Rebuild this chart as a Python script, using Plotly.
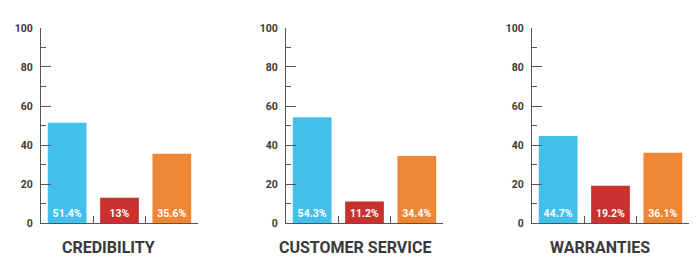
import plotly.graph_objects as go

panel_titles = ["CREDIBILITY", "CUSTOMER SERVICE", "WARRANTIES"]
groups = ["A", "B", "C"]
values = [
    [51.4, 13, 35.6],
    [54.3, 11.2, 34.4],
    [44.7, 19.2, 36.1],
]
labels = [
    ["51.4%", "13%", "35.6%"],
    ["54.3%", "11.2%", "34.4%"],
    ["44.7%", "19.2%", "36.1%"],
]
bar_colors = ["#42BFEB", "#C9302E", "#EF8633"]
y_ticks = [0, 20, 40, 60, 80, 100]

W, H = 700, 276
x_px = [(41, 198), (286, 443), (532, 689)]
title_cx = [108, 355, 600]
y_top, y_bot = 23, 228

fig = go.Figure()
axis_color = "#555555"
text_color = "#3a3a3a"
font_fam = "Roboto, Arial, sans-serif"

for i in range(3):
    xa = "x" if i == 0 else f"x{i+1}"
    ya = "y" if i == 0 else f"y{i+1}"
    fig.add_trace(go.Bar(
        x=groups, y=values[i], xaxis=xa, yaxis=ya,
        marker=dict(color=bar_colors, line=dict(width=0)),
        text=labels[i], textposition="inside", insidetextanchor="start",
        textangle=0,
        textfont=dict(color="white", size=10.5, family=font_fam, weight="bold"),
        width=0.74, showlegend=False, hoverinfo="skip",
        cliponaxis=False,
    ))
    key = "" if i == 0 else str(i + 1)
    d0, d1 = x_px[i][0] / W, x_px[i][1] / W
    fig.layout["xaxis" + key] = dict(
        domain=[d0, d1], range=[-0.5, 2.5], showticklabels=False,
        showline=True, linecolor=axis_color, linewidth=1,
        ticks="inside", tickson="boundaries", ticklen=7, tickcolor=axis_color,
        tickwidth=1, showgrid=False, zeroline=False,
        anchor=ya, fixedrange=True,
    )
    fig.layout["yaxis" + key] = dict(
        domain=[1 - y_bot / H, 1 - y_top / H], range=[0, 100],
        tickvals=y_ticks, ticks="inside", ticklen=10, tickcolor=axis_color,
        tickwidth=1, showline=True, linecolor=axis_color, linewidth=1,
        showgrid=False, zeroline=False, anchor=xa,
        ticklabelstandoff=5,
        tickfont=dict(color=text_color, size=10.5, family=font_fam, weight="bold"),
        minor=dict(ticks="inside", ticklen=5, dtick=10, tickcolor=axis_color,
                   tickwidth=1, showgrid=False),
        fixedrange=True,
    )
    fig.add_annotation(
        x=title_cx[i] / W, y=1 - 253 / H, xref="paper", yref="paper",
        text=panel_titles[i], showarrow=False, xanchor="center", yanchor="middle",
        font=dict(color=text_color, size=16, family=font_fam, weight="bold"),
    )

fig.update_layout(
    width=W, height=H, margin=dict(l=0, r=0, t=0, b=0),
    paper_bgcolor="white", plot_bgcolor="white",
    uniformtext=dict(minsize=8, mode="show"),
)

fig.write_html("out.html")
